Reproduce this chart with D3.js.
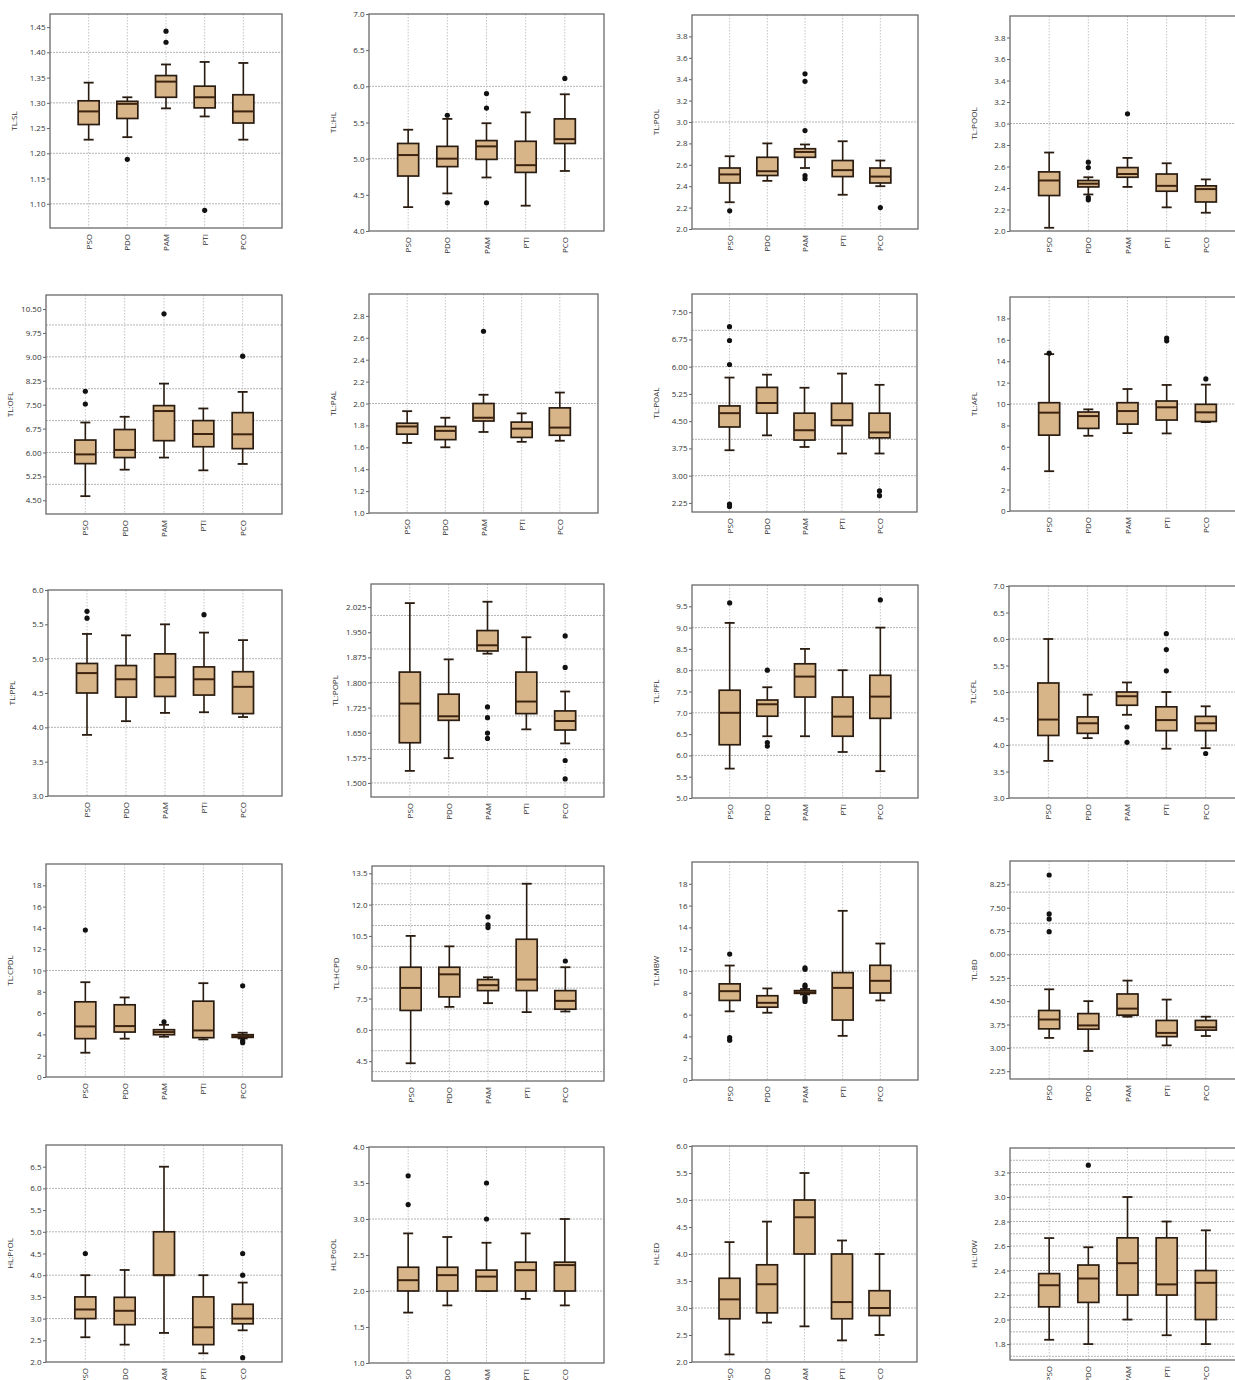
<!DOCTYPE html>
<html><head><meta charset="utf-8">
<script src="https://cdn.jsdelivr.net/npm/d3@7"></script>
<style>
html,body{margin:0;padding:0;background:#fff;}
svg{display:block;}
text{font-family:"Open Sans","Noto Sans",sans-serif;}
</style></head>
<body>
<svg id="chart" width="1235" height="1380"></svg>
<script>
// ---------------- DATA ----------------
const categories = ["PSO", "PDO", "PAM", "PTI", "PCO"];

const yTitles = ["TL:SL","TL:HL","TL:POL","TL:POOL","TL:OFL","TL:PAL","TL:POAL","TL:AFL",
  "TL:PPL","TL:POPL","TL:PFL","TL:CFL","TL:CPDL","TL:HCPD","TL:MBW","TL:BD",
  "HL:PrOL","HL:PoOL","HL:ED","HL:IOW"];

const yDomains = [[1.052,1.476],[4,7],[2,4],[2,4],[4.07,10.94],[1,3],[2,8],[0,20],
  [3,6],[1.458,2.094],[5,10],[3,7],[0,20],[3.55,13.85],[0,20],[2,9],
  [2,7],[1,4],[2,6],[1.67,3.4]];

const tickLabels1 = ["1.10","1.15","1.20","1.25","1.30","1.35","1.40","1.45"];
const tickLabels2 = ["4.0","4.5","5.0","5.5","6.0","6.5","7.0"];
const tickLabels3 = ["2.0","2.2","2.4","2.6","2.8","3.0","3.2","3.4","3.6","3.8"];
const tickLabels4 = ["2.0","2.2","2.4","2.6","2.8","3.0","3.2","3.4","3.6","3.8"];
const tickLabels5 = ["4.50","5.25","6.00","6.75","7.50","8.25","9.00","9.75","10.50"];
const tickLabels6 = ["1.0","1.2","1.4","1.6","1.8","2.0","2.2","2.4","2.6","2.8"];
const tickLabels7 = ["2.25","3.00","3.75","4.50","5.25","6.00","6.75","7.50"];
const tickLabels8 = ["0","2","4","6","8","10","12","14","16","18"];
const tickLabels9 = ["3.0","3.5","4.0","4.5","5.0","5.5","6.0"];
const tickLabels10 = ["1.500","1.575","1.650","1.725","1.800","1.875","1.950","2.025"];
const tickLabels11 = ["5.0","5.5","6.0","6.5","7.0","7.5","8.0","8.5","9.0","9.5"];
const tickLabels12 = ["3.0","3.5","4.0","4.5","5.0","5.5","6.0","6.5","7.0"];
const tickLabels13 = ["0","2","4","6","8","10","12","14","16","18"];
const tickLabels14 = ["4.5","6.0","7.5","9.0","10.5","12.0","13.5"];
const tickLabels15 = ["0","2","4","6","8","10","12","14","16","18"];
const tickLabels16 = ["2.25","3.00","3.75","4.50","5.25","6.00","6.75","7.50","8.25"];
const tickLabels17 = ["2.0","2.5","3.0","3.5","4.0","4.5","5.0","5.5","6.0","6.5"];
const tickLabels18 = ["1.0","1.5","2.0","2.5","3.0","3.5","4.0"];
const tickLabels19 = ["2.0","2.5","3.0","3.5","4.0","4.5","5.0","5.5","6.0"];
const tickLabels20 = ["1.8","2.0","2.2","2.4","2.6","2.8","3.0","3.2"];

const gridLines = [[1.1,1.2,1.3,1.4],[5,6],[3],[3],[5,6,7,8,9,10],[2],[3,4,5,6,7],[10],
  [4,5],[1.5,1.6,1.7,1.8,1.9,2.0],[6,7,8,9],[4,5,6],[10],[4,5,6,7,8,9,10,11,12,13],[10],[3,4,5,6,7,8],
  [3,4,5,6],[2,3],[3,4,5],[1.7,1.8,1.9,2.0,2.1,2.2,2.3,2.4,2.5,2.6,2.7,2.8,2.9,3.0,3.1,3.2,3.3]];

// box stats per category: [lowWhisker, Q1, median, Q3, highWhisker]
const boxes1 = [[1.227,1.257,1.283,1.304,1.340],[1.232,1.269,1.298,1.303,1.311],[1.289,1.311,1.342,1.354,1.376],[1.273,1.290,1.311,1.333,1.381],[1.227,1.260,1.283,1.316,1.379]];
const outl1 = [[],[1.188],[1.442,1.420],[1.087],[]];
const boxes2 = [[4.33,4.76,5.05,5.21,5.40],[4.52,4.89,5.00,5.17,5.55],[4.74,4.99,5.17,5.25,5.49],[4.35,4.81,4.91,5.24,5.64],[4.83,5.21,5.27,5.55,5.89]];
const outl2 = [[],[5.60,4.39],[5.90,5.70,4.39],[],[6.11]];
const boxes3 = [[2.25,2.43,2.51,2.57,2.68],[2.45,2.50,2.54,2.67,2.80],[2.57,2.67,2.72,2.75,2.79],[2.32,2.49,2.55,2.64,2.82],[2.40,2.43,2.49,2.57,2.64]];
const outl3 = [[2.17],[],[3.45,3.38,2.92,2.50,2.47],[],[2.20]];
const boxes4 = [[2.03,2.33,2.47,2.55,2.73],[2.34,2.41,2.44,2.47,2.50],[2.41,2.50,2.53,2.59,2.68],[2.22,2.37,2.42,2.53,2.63],[2.17,2.27,2.39,2.42,2.48]];
const outl4 = [[],[2.64,2.59,2.31,2.29],[3.09],[],[]];
const boxes5 = [[4.63,5.65,5.94,6.39,6.94],[5.46,5.84,6.08,6.72,7.12],[5.84,6.37,7.30,7.47,8.16],[5.44,6.18,6.58,7.00,7.38],[5.64,6.12,6.57,7.25,7.90]];
const outl5 = [[7.92,7.52],[],[10.35],[],[9.02]];
const boxes6 = [[1.64,1.72,1.79,1.82,1.93],[1.60,1.67,1.75,1.79,1.87],[1.74,1.84,1.87,2.00,2.08],[1.65,1.69,1.77,1.83,1.91],[1.66,1.71,1.78,1.96,2.10]];
const outl6 = [[],[],[2.66],[],[]];
const boxes7 = [[3.70,4.34,4.72,4.92,5.70],[4.11,4.72,5.00,5.43,5.78],[3.79,3.98,4.25,4.72,5.42],[3.61,4.38,4.53,4.99,5.81],[3.61,4.04,4.19,4.72,5.50]];
const outl7 = [[7.10,6.72,6.06,2.22,2.15],[],[],[],[2.58,2.45]];
const boxes8 = [[3.72,7.09,9.19,10.12,14.66],[7.03,7.72,8.87,9.25,9.50],[7.28,8.12,9.34,10.12,11.40],[7.25,8.50,9.69,10.28,11.78],[8.31,8.37,9.22,9.97,11.81]];
const outl8 = [[14.75],[],[],[16.16,15.90],[12.34]];
const boxes9 = [[3.89,4.50,4.79,4.93,5.36],[4.09,4.44,4.70,4.90,5.34],[4.21,4.45,4.73,5.07,5.50],[4.22,4.47,4.70,4.88,5.38],[4.15,4.20,4.59,4.81,5.27]];
const outl9 = [[5.69,5.59],[],[],[5.64],[]];
const boxes10 = [[1.536,1.620,1.737,1.831,2.037],[1.574,1.687,1.699,1.765,1.869],[1.886,1.894,1.911,1.955,2.041],[1.660,1.707,1.743,1.831,1.935],[1.618,1.658,1.685,1.715,1.773]];
const outl10 = [[],[],[1.727,1.695,1.649,1.633],[],[1.939,1.845,1.567,1.512]];
const boxes11 = [[5.69,6.25,7.00,7.53,9.11],[6.45,6.92,7.20,7.30,7.60],[6.45,7.37,7.85,8.15,8.50],[6.08,6.45,6.91,7.37,8.00],[5.63,6.87,7.38,7.88,9.00]];
const outl11 = [[9.58],[8.00,6.30,6.22],[],[],[9.65]];
const boxes12 = [[3.70,4.18,4.48,5.17,6.00],[4.13,4.22,4.41,4.53,4.95],[4.57,4.75,4.92,5.00,5.18],[3.93,4.27,4.47,4.72,5.00],[3.94,4.27,4.41,4.54,4.73]];
const outl12 = [[],[],[4.34,4.05],[6.10,5.80,5.40],[3.84]];
const boxes13 = [[2.28,3.60,4.75,7.06,8.90],[3.60,4.22,4.78,6.78,7.47],[3.78,3.97,4.22,4.44,4.90],[3.53,3.69,4.37,7.12,8.81],[3.62,3.72,3.84,3.97,4.16]];
const outl13 = [[13.8],[],[5.19],[],[8.56,3.41,3.22]];
const boxes14 = [[4.40,6.93,8.01,9.00,10.50],[7.10,7.58,8.66,9.00,10.00],[7.28,7.88,8.14,8.41,8.52],[6.85,7.88,8.41,10.34,13.00],[6.88,6.99,7.39,7.88,9.00]];
const outl14 = [[],[],[11.41,11.03,10.90],[],[9.30]];
const boxes15 = [[6.30,7.30,8.15,8.82,10.50],[6.17,6.68,7.08,7.73,8.40],[7.85,7.95,8.05,8.20,8.35],[4.05,5.50,8.45,9.85,15.52],[7.30,7.98,9.10,10.52,12.52]];
const outl15 = [[11.55,3.90,3.65],[],[10.30,10.15,8.70,8.55,7.60,7.40,7.20],[],[]];
const boxes16 = [[3.32,3.61,3.91,4.20,4.88],[2.90,3.60,3.72,4.10,4.50],[4.00,4.05,4.26,4.73,5.16],[3.08,3.36,3.48,3.88,4.55],[3.38,3.57,3.66,3.88,4.00]];
const outl16 = [[8.55,7.30,7.14,6.73],[],[],[],[]];
const boxes17 = [[2.57,3.00,3.21,3.50,4.00],[2.40,2.86,3.18,3.49,4.12],[2.67,4.00,4.00,5.00,6.50],[2.20,2.40,2.80,3.50,4.00],[2.73,2.88,3.00,3.33,3.83]];
const outl17 = [[4.50],[],[],[],[4.50,4.00,2.10]];
const boxes18 = [[1.70,2.00,2.15,2.33,2.80],[1.80,2.00,2.22,2.33,2.75],[2.00,2.00,2.20,2.29,2.67],[1.89,2.00,2.29,2.40,2.80],[1.80,2.00,2.36,2.40,3.00]];
const outl18 = [[3.60,3.20],[],[3.50,3.00],[],[]];
const boxes19 = [[2.14,2.80,3.16,3.55,4.22],[2.73,2.91,3.44,3.80,4.60],[2.66,4.00,4.68,5.00,5.50],[2.40,2.80,3.11,4.00,4.25],[2.50,2.86,3.00,3.32,4.00]];
const outl19 = [[],[],[],[],[]];
const boxes20 = [[1.835,2.104,2.280,2.375,2.665],[1.80,2.14,2.335,2.445,2.59],[2.00,2.20,2.46,2.667,3.00],[1.872,2.20,2.287,2.667,2.80],[1.80,2.00,2.30,2.40,2.728]];
const outl20 = [[],[3.26],[],[],[]];

// ---------------- LAYOUT (plot rectangles: left, right, top, bottom) ----------------
const layout = [
  [50,282,14,228],[369,604,14,231],[692,918,15,229],[1010,1245,16,231],
  [46,282,295,514],[369,598,294,513],[692,917,294,512],[1010,1245,297,511],
  [48,282,590,796],[371,604,584,797],[692,918,585,798],[1009,1245,586,798],
  [46,282,864,1077],[372,604,866,1081],[692,918,862,1080],[1010,1245,861,1079],
  [46,282,1145,1362],[369,604,1147,1363],[692,917,1146,1362],[1010,1245,1148,1360]
];

const tickSets = [tickLabels1,tickLabels2,tickLabels3,tickLabels4,tickLabels5,tickLabels6,tickLabels7,tickLabels8,
  tickLabels9,tickLabels10,tickLabels11,tickLabels12,tickLabels13,tickLabels14,tickLabels15,tickLabels16,
  tickLabels17,tickLabels18,tickLabels19,tickLabels20];
const boxSets = [boxes1,boxes2,boxes3,boxes4,boxes5,boxes6,boxes7,boxes8,boxes9,boxes10,
  boxes11,boxes12,boxes13,boxes14,boxes15,boxes16,boxes17,boxes18,boxes19,boxes20];
const outSets = [outl1,outl2,outl3,outl4,outl5,outl6,outl7,outl8,outl9,outl10,
  outl11,outl12,outl13,outl14,outl15,outl16,outl17,outl18,outl19,outl20];

// ---------------- DRAW ----------------
const svg = d3.select("#chart");
svg.append("rect").attr("width",1235).attr("height",1380).attr("fill","#fff");

const BOX_FILL = "#d8b589", BOX_STROKE = "#2a1c10";

layout.forEach((L, i) => {
  const [x0,x1,y0,y1] = L;
  const g = svg.append("g");
  const x = d3.scalePoint().domain(categories).range([x0,x1]).padding(1);
  const y = d3.scaleLinear().domain(yDomains[i]).range([y1,y0]);

  // clip
  const cid = "clip"+i;
  svg.append("clipPath").attr("id",cid).append("rect")
    .attr("x",x0).attr("y",y0).attr("width",x1-x0).attr("height",y1-y0);
  const inner = g.append("g").attr("clip-path",`url(#${cid})`);

  // horizontal grid lines
  inner.selectAll("line.hg").data(gridLines[i]).join("line")
    .attr("x1",x0).attr("x2",x1)
    .attr("y1",d=>y(d)).attr("y2",d=>y(d))
    .attr("stroke","#b4b4b4").attr("stroke-width",1).attr("stroke-dasharray","2,1");
  // vertical grid lines
  inner.selectAll("line.vg").data(categories).join("line")
    .attr("x1",d=>x(d)).attr("x2",d=>x(d))
    .attr("y1",y0).attr("y2",y1)
    .attr("stroke","#c4c4c4").attr("stroke-width",1).attr("stroke-dasharray","1.5,1.5");

  const bw = 21, cw = 10;
  const stats = boxSets[i];
  categories.forEach((c, k) => {
    const s = stats[k];
    const cx = x(c);
    const bg = inner.append("g");
    // whiskers
    bg.append("line").attr("x1",cx).attr("x2",cx).attr("y1",y(s[4])).attr("y2",y(s[3]))
      .attr("stroke",BOX_STROKE).attr("stroke-width",1.6);
    bg.append("line").attr("x1",cx).attr("x2",cx).attr("y1",y(s[1])).attr("y2",y(s[0]))
      .attr("stroke",BOX_STROKE).attr("stroke-width",1.6);
    bg.append("line").attr("x1",cx-cw/2).attr("x2",cx+cw/2).attr("y1",y(s[4])).attr("y2",y(s[4]))
      .attr("stroke",BOX_STROKE).attr("stroke-width",1.8);
    bg.append("line").attr("x1",cx-cw/2).attr("x2",cx+cw/2).attr("y1",y(s[0])).attr("y2",y(s[0]))
      .attr("stroke",BOX_STROKE).attr("stroke-width",1.8);
    // box
    bg.append("rect").attr("x",cx-bw/2).attr("width",bw)
      .attr("y",y(s[3])).attr("height",Math.max(1,y(s[1])-y(s[3])))
      .attr("fill",BOX_FILL).attr("stroke",BOX_STROKE).attr("stroke-width",1.7);
    // median
    bg.append("line").attr("x1",cx-bw/2).attr("x2",cx+bw/2).attr("y1",y(s[2])).attr("y2",y(s[2]))
      .attr("stroke","#3b2310").attr("stroke-width",2);
    // outliers
    bg.selectAll("circle").data(outSets[i][k]).join("circle")
      .attr("cx",cx).attr("cy",d=>y(d)).attr("r",2.6).attr("fill","#111");
  });

  // frame
  g.append("rect").attr("x",x0).attr("y",y0).attr("width",x1-x0).attr("height",y1-y0)
    .attr("fill","none").attr("stroke","#6a6a6a").attr("stroke-width",1.3);

  // y axis ticks
  const ticks = tickSets[i];
  const yAxis = d3.axisLeft(y).tickValues(ticks.map(Number))
    .tickFormat((d,j)=>ticks[j]).tickSize(3).tickPadding(1.5);
  const ag = g.append("g").attr("transform",`translate(${x0},0)`).call(yAxis);
  ag.select(".domain").remove();
  ag.selectAll("line").attr("stroke","#666");
  ag.selectAll("text").attr("font-size",8).attr("fill","#333")
    .attr("font-family","'Open Sans','Noto Sans',sans-serif");

  // x axis labels
  const xAxis = d3.axisBottom(x).tickSize(0).tickPadding(0);
  const xg = g.append("g").attr("transform",`translate(0,${y1})`).call(xAxis);
  xg.select(".domain").remove();
  xg.selectAll("text").attr("font-size",8).attr("fill","#333")
    .attr("font-family","'Open Sans','Noto Sans',sans-serif")
    .attr("transform","rotate(-90)").attr("text-anchor","end")
    .attr("x",-6).attr("y",0).attr("dy","0.33em").attr("dx",0);

  // y title
  g.append("text").attr("transform",`translate(${x0-33},${(y0+y1)/2}) rotate(-90)`)
    .attr("text-anchor","middle").attr("font-size",8).attr("fill","#333")
    .text(yTitles[i]);
});
</script>
</body></html>
